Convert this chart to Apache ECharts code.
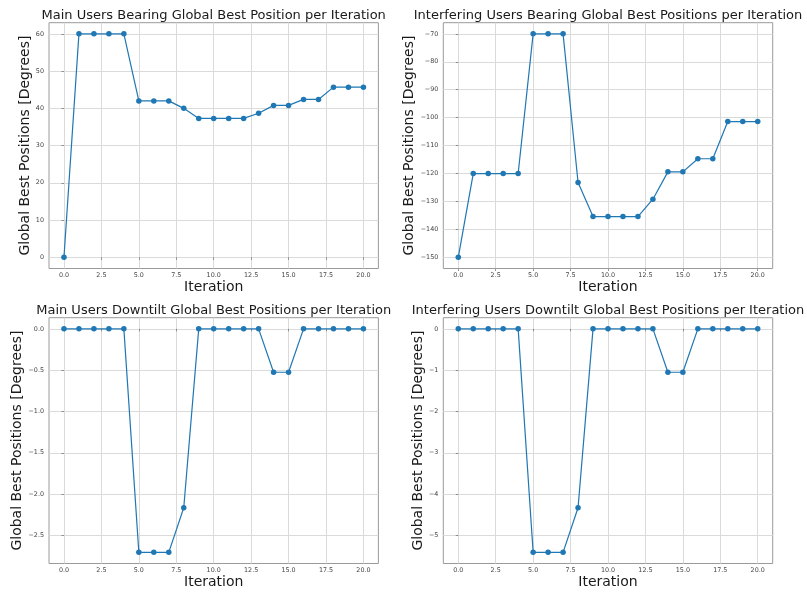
<!DOCTYPE html>
<html>
<head>
<meta charset="utf-8">
<style>
  html, body { margin: 0; padding: 0; background: #ffffff; }
  #chart { width: 807px; height: 593px; }
</style>
<script src="https://cdn.jsdelivr.net/npm/echarts@6/dist/echarts.min.js"></script>
</head>
<body>
<div id="chart"></div>
<script>
// Iteration index shared by all four panels
const iterations = [0, 1, 2, 3, 4, 5, 6, 7, 8, 9, 10, 11, 12, 13, 14, 15, 16, 17, 18, 19, 20];

// Global best positions per iteration (degrees)
const mainBearing = [0, 60, 60, 60, 60, 42, 42, 42, 40, 37.3, 37.3, 37.3, 37.3, 38.7, 40.8, 40.8, 42.4, 42.4, 45.7, 45.7, 45.7];
const interferingBearing = [-150, -120, -120, -120, -120, -70, -70, -70, -123.2, -135.4, -135.4, -135.4, -135.4, -129.2, -119.4, -119.4, -114.7, -114.7, -101.4, -101.4, -101.4];
const mainDowntilt = [0, 0, 0, 0, 0, -2.705, -2.705, -2.705, -2.165, 0, 0, 0, 0, 0, -0.525, -0.525, 0, 0, 0, 0, 0];
const interferingDowntilt = [0, 0, 0, 0, 0, -5.41, -5.41, -5.41, -4.33, 0, 0, 0, 0, 0, -1.05, -1.05, 0, 0, 0, 0, 0];

// Tick positions
const xTicks = [0, 2.5, 5, 7.5, 10, 12.5, 15, 17.5, 20];
const mainBearingTicks = [0, 10, 20, 30, 40, 50, 60];
const interferingBearingTicks = [-150, -140, -130, -120, -110, -100, -90, -80, -70];
const mainDowntiltTicks = [-2.5, -2.0, -1.5, -1.0, -0.5, 0.0];
const interferingDowntiltTicks = [-5, -4, -3, -2, -1, 0];

const titles = [
  'Main Users Bearing Global Best Position per Iteration',
  'Interfering Users Bearing Global Best Positions per Iteration',
  'Main Users Downtilt Global Best Positions per Iteration',
  'Interfering Users Downtilt Global Best Positions per Iteration'
];
const xName = 'Iteration';
const yName = 'Global Best Positions [Degrees]';

const FONT = 'DejaVu Sans';
const LINE = '#1f77b4';

// matplotlib-style label: unicode minus sign
function fmt(v, decimals) {
  const s = Math.abs(v).toFixed(decimals);
  return (v < 0 ? '\u2212' : '') + s;
}

// Auto-range with a 5% margin on each side
function padded(values) {
  const lo = Math.min(...values), hi = Math.max(...values);
  const m = (hi - lo) * 0.05;
  return [lo - m, hi + m];
}

const panels = [
  { values: mainBearing, ticks: mainBearingTicks, dec: 0, left: 49, top: 22.7 },
  { values: interferingBearing, ticks: interferingBearingTicks, dec: 0, left: 443.3, top: 22.7 },
  { values: mainDowntilt, ticks: mainDowntiltTicks, dec: 1, left: 49, top: 317.7 },
  { values: interferingDowntilt, ticks: interferingDowntiltTicks, dec: 0, left: 443.3, top: 317.7 }
];
const W = 329.4, H = 245.8;

const grid = [], xAxis = [], yAxis = [], series = [], title = [];
const xRange = padded(iterations);

panels.forEach((p, i) => {
  grid.push({
    left: p.left, top: p.top, width: W, height: H,
    show: true, borderColor: '#9a9a9a', borderWidth: 1, backgroundColor: 'transparent'
  });
  title.push({
    text: titles[i],
    left: p.left + W / 2, top: p.top - 14,
    padding: 0,
    textAlign: 'center',
    textStyle: { fontFamily: FONT, fontSize: 13, fontWeight: 'normal', color: '#1a1a1a' }
  });
  xAxis.push({
    type: 'value', gridIndex: i,
    min: xRange[0], max: xRange[1],
    name: xName, nameLocation: 'middle', nameGap: 12,
    nameTextStyle: { fontFamily: FONT, fontSize: 14, color: '#1a1a1a' },
    axisLine: { show: false },
    axisTick: { show: true, length: 2.5, customValues: xTicks, lineStyle: { color: '#777', width: 0.8 } },
    axisLabel: { customValues: xTicks, margin: 4, fontFamily: FONT, fontSize: 6.4, color: '#444',
      formatter: v => fmt(v, 1) },
    splitLine: { show: true, lineStyle: { color: '#dadada', width: 1 } }
  });
  const yRange = padded(p.values);
  yAxis.push({
    type: 'value', gridIndex: i,
    min: yRange[0], max: yRange[1],
    name: yName, nameLocation: 'middle', nameGap: 17, nameRotate: 90,
    nameTextStyle: { fontFamily: FONT, fontSize: 14, color: '#1a1a1a' },
    axisLine: { show: false },
    axisTick: { show: true, length: 2.5, customValues: p.ticks, lineStyle: { color: '#777', width: 0.8 } },
    axisLabel: { customValues: p.ticks, margin: 5, fontFamily: FONT, fontSize: 6.4, color: '#444',
      formatter: v => fmt(v, p.dec) },
    splitLine: { show: true, lineStyle: { color: '#dadada', width: 1 } }
  });
  series.push({
    type: 'line', xAxisIndex: i, yAxisIndex: i,
    data: iterations.map((it, k) => [it, p.values[k]]),
    symbol: 'circle', symbolSize: 5.5, showSymbol: true,
    lineStyle: { color: LINE, width: 1.2 },
    itemStyle: { color: LINE },
    animation: false
  });
});

const chart = echarts.init(document.getElementById('chart'), null, { renderer: 'canvas' });
chart.setOption({ animation: false, backgroundColor: '#ffffff', title, grid, xAxis, yAxis, series });
</script>
</body>
</html>
